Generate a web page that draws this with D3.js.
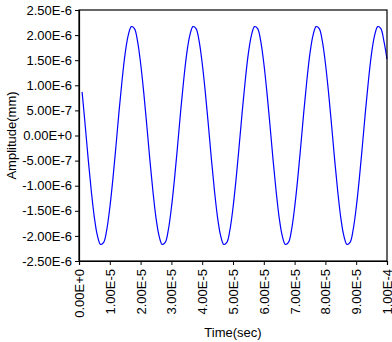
<!DOCTYPE html>
<html>
<head>
<meta charset="utf-8">
<script src="https://cdn.jsdelivr.net/npm/d3@7"></script>
<style>
  body { margin: 0; background: #fff; }
  text { font-family: "Liberation Sans", Arial, sans-serif; }
</style>
</head>
<body>
<div id="wrapper"></div>
<script>
// time in microseconds, amplitude in 1e-6 mm
const timeUs = d3.range(1, 101);
const amplitude = [
  0.87, 0.21, -0.48, -1.11, -1.64, -2.00, -2.17, -2.13, -1.88, -1.44,
  -0.87, -0.21, 0.48, 1.11, 1.64, 2.00, 2.17, 2.13, 1.88, 1.44,
  0.87, 0.21, -0.48, -1.11, -1.64, -2.00, -2.17, -2.13, -1.88, -1.44,
  -0.87, -0.21, 0.48, 1.11, 1.64, 2.00, 2.17, 2.13, 1.88, 1.44,
  0.87, 0.21, -0.48, -1.11, -1.64, -2.00, -2.17, -2.13, -1.88, -1.44,
  -0.87, -0.21, 0.48, 1.11, 1.64, 2.00, 2.17, 2.13, 1.88, 1.44,
  0.87, 0.21, -0.48, -1.11, -1.64, -2.00, -2.17, -2.13, -1.88, -1.44,
  -0.87, -0.21, 0.48, 1.11, 1.64, 2.00, 2.17, 2.13, 1.88, 1.44,
  0.87, 0.21, -0.48, -1.11, -1.64, -2.00, -2.17, -2.13, -1.88, -1.44,
  -0.87, -0.21, 0.48, 1.11, 1.64, 2.00, 2.17, 2.13, 1.88, 1.52
];

const xTickValues = d3.range(0, 101, 10);
const xTickLabels = ["0.00E+0", "1.00E-5", "2.00E-5", "3.00E-5", "4.00E-5", "5.00E-5",
  "6.00E-5", "7.00E-5", "8.00E-5", "9.00E-5", "1.00E-4"];
const yTickValues = [-2.5, -2, -1.5, -1, -0.5, 0, 0.5, 1, 1.5, 2, 2.5];
const yTickLabels = ["-2.50E-6", "-2.00E-6", "-1.50E-6", "-1.00E-6", "-5.00E-7", "0.00E+0",
  "5.00E-7", "1.00E-6", "1.50E-6", "2.00E-6", "2.50E-6"];

let dimensions = {
  width: 392,
  height: 342,
  margin: { top: 10, left: 79, bottom: 81, right: 5 }
};
dimensions.boundedWidth = dimensions.width - dimensions.margin.left - dimensions.margin.right;
dimensions.boundedHeight = dimensions.height - dimensions.margin.top - dimensions.margin.bottom;

const wrapper = d3.select("#wrapper").append("svg")
  .attr("width", dimensions.width)
  .attr("height", dimensions.height);
const container = wrapper.append("g")
  .attr("transform", `translate(${dimensions.margin.left}, ${dimensions.margin.top})`);

const xScaler = d3.scaleLinear().domain([0, 100]).range([0, dimensions.boundedWidth]);
const yScaler = d3.scaleLinear().domain([-2.5, 2.5]).range([dimensions.boundedHeight, 0]);

const data = timeUs.map((t, i) => ({ x: t, y: amplitude[i] }));

const line = d3.line()
  .x(d => xScaler(d.x))
  .y(d => yScaler(d.y))
  .curve(d3.curveCatmullRom);

container.append("path")
  .datum(data)
  .attr("fill", "none")
  .attr("stroke", "#0000ff")
  .attr("stroke-width", 1.2)
  .attr("d", line);

// frame
container.append("rect")
  .attr("x", 0).attr("y", 0)
  .attr("width", dimensions.boundedWidth)
  .attr("height", dimensions.boundedHeight)
  .attr("fill", "none")
  .attr("stroke", "#000")
  .attr("stroke-width", 1.2);

const xAxisGen = d3.axisBottom(xScaler)
  .tickValues(xTickValues)
  .tickSize(4)
  .tickFormat((d, i) => xTickLabels[i]);
const axisX = container.append("g")
  .attr("transform", `translate(0, ${dimensions.boundedHeight})`)
  .call(xAxisGen);
axisX.select(".domain").attr("stroke-width", 1.2);
axisX.selectAll("text")
  .attr("transform", "rotate(-90)")
  .attr("x", -8)
  .attr("y", 0)
  .attr("dy", "0.35em")
  .attr("text-anchor", "end")
  .style("font-size", "13px")
  .attr("fill", "#000");

const yAxisGen = d3.axisLeft(yScaler)
  .tickValues(yTickValues)
  .tickSize(4)
  .tickPadding(3)
  .tickFormat((d, i) => yTickLabels[i]);
const axisY = container.append("g").call(yAxisGen);
axisY.select(".domain").attr("stroke-width", 1.2);
axisY.selectAll("text")
  .style("font-size", "13px")
  .attr("fill", "#000");

container.append("text") // x label
  .attr("x", dimensions.boundedWidth / 2)
  .attr("y", dimensions.boundedHeight + 76)
  .attr("text-anchor", "middle")
  .style("font-size", "13px")
  .text("Time(sec)");

container.append("text") // y label
  .attr("transform", `translate(${-63}, ${dimensions.boundedHeight / 2}) rotate(-90)`)
  .attr("text-anchor", "middle")
  .style("font-size", "13px")
  .text("Amplitude(mm)");
</script>
</body>
</html>
